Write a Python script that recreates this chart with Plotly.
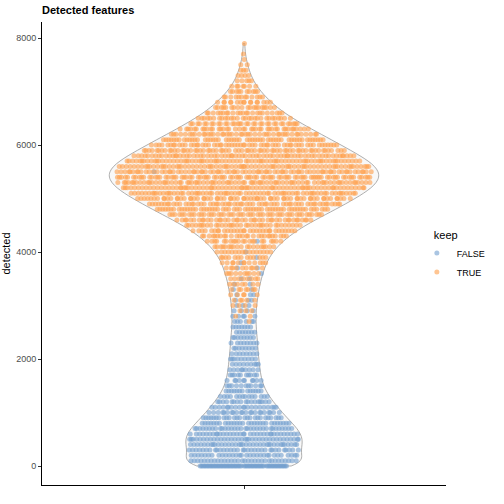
import numpy as np
import plotly.graph_objects as go

detected = list(range(0, 8000, 100))

# number of cells per row, keep == FALSE
n_false = [60, 32, 30, 32, 36, 35, 34, 32, 28, 25,
           22, 20, 17, 14, 13, 11, 10, 10, 9, 9,
           9, 8, 8, 8, 8, 7, 7, 6, 5, 4,
           3, 3, 3, 2, 2, 2, 1, 2, 1, 1,
           1, 0, 1, 0, 0, 0, 0, 0, 0, 0,
           0, 0, 0, 0, 0, 1, 0, 0, 0, 0,
           0, 0, 0, 0, 0, 0, 0, 0, 0, 0,
           0, 0, 0, 0, 0, 0, 0, 0, 0, 0]

# number of cells per row, keep == TRUE
n_true = [0, 0, 0, 0, 0, 0, 0, 0, 0, 0,
          0, 0, 0, 0, 0, 0, 0, 0, 0, 0,
          0, 0, 0, 0, 0, 0, 0, 1, 2, 3,
          4, 5, 5, 7, 7, 8, 10, 10, 12, 13,
          16, 19, 21, 26, 31, 35, 41, 48, 54, 59,
          65, 71, 75, 79, 81, 79, 78, 74, 68, 62,
          57, 51, 45, 39, 34, 28, 23, 19, 16, 12,
          10, 7, 5, 4, 3, 2, 1, 1, 0, 1]

keep_levels = ["FALSE", "TRUE"]
keep_colors = {"FALSE": "rgba(114,158,206,0.6)", "TRUE": "rgba(255,158,74,0.6)"}

bw = 150
violin_width = 0.8

# every cell as one value
vals = []
keep = []
for d, nf, nt in zip(detected, n_false, n_true):
    vals += [d] * (nf + nt)
    keep += ["FALSE"] * nf + ["TRUE"] * nt
vals = np.array(vals, dtype=float)
keep = np.array(keep)


def kde(t):
    t = np.atleast_1d(t)[:, None]
    return np.exp(-0.5 * ((t - vals[None, :]) / bw) ** 2).sum(axis=1)


def vdc(i, base=2):
    # van der Corput, like ggbeeswarm's quasirandom
    out, denom = 0.0, 1.0
    while i > 0:
        denom *= base
        i, r = divmod(i, base)
        out += r / denom
    return out


grid = np.arange(vals.min(), vals.max() + bw / 6, bw / 3)
max_dens = kde(grid).max()
half = 0.5 * violin_width * kde(vals) / max_dens
offs = np.array([(vdc(i + 1) - 0.5) * 2 * 0.96 for i in range(len(vals))]) * half

fig = go.Figure()

fig.add_trace(go.Violin(
    x0=0, y=vals, width=violin_width, bandwidth=bw,
    spanmode="hard", scalemode="width", points=False,
    line=dict(color="#8c8c8c", width=0.7),
    fillcolor="rgba(235,235,235,0.35)",
    box_visible=False, meanline_visible=False,
    showlegend=False, hoverinfo="skip"))

for lvl in keep_levels:
    m = keep == lvl
    fig.add_trace(go.Scatter(
        x=offs[m], y=vals[m], mode="markers", name=lvl,
        marker=dict(size=5, color=keep_colors[lvl], line=dict(width=0))))

fig.update_layout(
    width=504, height=504,
    margin=dict(l=42, r=58, t=22, b=19, autoexpand=False),
    paper_bgcolor="white", plot_bgcolor="white",
    font=dict(family="Liberation Sans, Arial, sans-serif", color="black"),
    title=dict(text="<b>Detected features</b>", x=42 / 504, xref="container", xanchor="left",
               y=1 - 10 / 504, yanchor="middle", font=dict(size=11)),
    xaxis=dict(type="linear", range=[-0.6, 0.6], tickvals=[0], showticklabels=False,
               ticks="outside", ticklen=3, tickcolor="#333333", showline=True,
               linecolor="black", linewidth=1, showgrid=False, zeroline=False),
    yaxis=dict(range=[-355, 8300], tickvals=[0, 2000, 4000, 6000, 8000],
               ticks="outside", ticklen=3, tickcolor="#333333", showline=True,
               linecolor="black", linewidth=1, showgrid=False, zeroline=False,
               tickfont=dict(size=9, color="#4d4d4d"),
               title=dict(text="detected", font=dict(size=11), standoff=3),
               automargin=False),
    legend=dict(x=0.965, xanchor="left", y=0.495, yanchor="middle",
                title=dict(text="keep", font=dict(size=11)),
                font=dict(size=9), itemwidth=30, indentation=-15, tracegroupgap=0),
    showlegend=True,
)

# drop the browser's default 8px body margin so the 504px figure fills the window
fig.write_html("out.html", config={"displayModeBar": False},
               post_script="document.body.style.margin = '0';")
